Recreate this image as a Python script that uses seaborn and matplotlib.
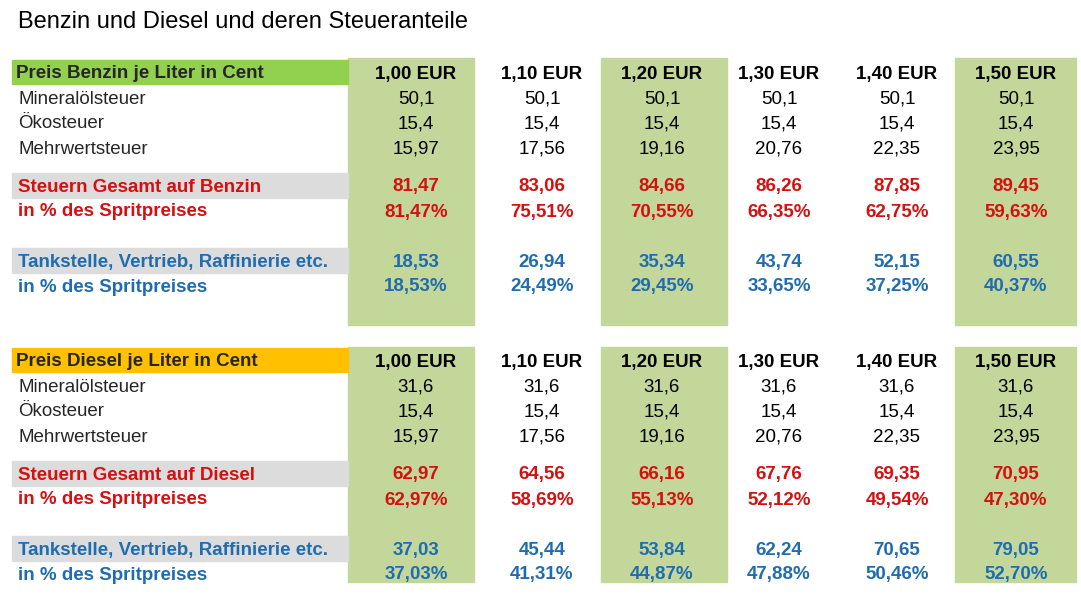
import matplotlib
matplotlib.use("Agg")
import matplotlib.pyplot as plt
import seaborn as sns
from matplotlib.patches import Rectangle

sns.set_theme(style="white")
plt.rcParams['font.family'] = ['Liberation Sans', 'DejaVu Sans']

prices = ["1,00 EUR", "1,10 EUR", "1,20 EUR", "1,30 EUR", "1,40 EUR", "1,50 EUR"]
row_labels = ["Mineralölsteuer", "Ökosteuer", "Mehrwertsteuer"]

benzin_mineral = ["50,1"] * 6
benzin_oeko = ["15,4"] * 6
benzin_mwst = ["15,97", "17,56", "19,16", "20,76", "22,35", "23,95"]
benzin_steuer = ["81,47", "83,06", "84,66", "86,26", "87,85", "89,45"]
benzin_steuer_pct = ["81,47%", "75,51%", "70,55%", "66,35%", "62,75%", "59,63%"]
benzin_rest = ["18,53", "26,94", "35,34", "43,74", "52,15", "60,55"]
benzin_rest_pct = ["18,53%", "24,49%", "29,45%", "33,65%", "37,25%", "40,37%"]

diesel_mineral = ["31,6"] * 6
diesel_oeko = ["15,4"] * 6
diesel_mwst = ["15,97", "17,56", "19,16", "20,76", "22,35", "23,95"]
diesel_steuer = ["62,97", "64,56", "66,16", "67,76", "69,35", "70,95"]
diesel_steuer_pct = ["62,97%", "58,69%", "55,13%", "52,12%", "49,54%", "47,30%"]
diesel_rest = ["37,03", "45,44", "53,84", "62,24", "70,65", "79,05"]
diesel_rest_pct = ["37,03%", "41,31%", "44,87%", "47,88%", "50,46%", "52,70%"]

RED = "#d41010"
BLUE = "#1f6db0"
GREEN_COL = "#c4d79b"
GRAY = "#dcdcdc"
FS = 13.5

fig = plt.figure(figsize=(10.81, 6.10), dpi=100)
ax = fig.add_axes([0, 0, 1, 1])
ax.set_xlim(0, 1081)
ax.set_ylim(610, 0)
ax.axis("off")

col_x = [416, 542, 662, 779, 897, 1016]
col_left = [348, 474, 601, 727, 842, 955]
col_w = [126, 127, 126, 115, 113, 121]

ax.text(18, 19, "Benzin und Diesel und deren Steueranteile", fontsize=17,
        va="center_baseline", ha="left", color="black")

# green columns
for i in (0, 2, 5):
    for top, bottom in ((58, 325), (347, 582)):
        ax.add_patch(Rectangle((col_left[i], top), col_w[i], bottom - top,
                               color=GREEN_COL, zorder=0))


def block(y0, title, title_color, tax_label, data):
    mineral, oeko, mwst, steuer, steuer_pct, rest, rest_pct = data
    ys = [y0, y0 + 25, y0 + 50, y0 + 75, y0 + 113, y0 + 138, y0 + 188, y0 + 213]
    ax.add_patch(Rectangle((12, ys[0] - 12), 336, 24, color=title_color, zorder=1))
    ax.add_patch(Rectangle((12, ys[4] - 12), 336, 25, color=GRAY, zorder=1))
    ax.add_patch(Rectangle((12, ys[6] - 12), 336, 25, color=GRAY, zorder=1))
    kw = dict(fontsize=FS, va="center_baseline")
    ax.text(16, ys[0], title, fontweight="bold", **kw)
    for k, lab in enumerate(row_labels):
        ax.text(18, ys[k + 1], lab, **kw)
    ax.text(18, ys[4], tax_label, fontweight="bold", color=RED, **kw)
    ax.text(18, ys[5], "in % des Spritpreises", fontweight="bold", color=RED, **kw)
    ax.text(18, ys[6], "Tankstelle, Vertrieb, Raffinierie etc.",
            fontweight="bold", color=BLUE, **kw)
    ax.text(18, ys[7], "in % des Spritpreises", fontweight="bold", color=BLUE, **kw)
    rows = [(prices, "black", "bold"), (mineral, "black", "normal"),
            (oeko, "black", "normal"), (mwst, "black", "normal"),
            (steuer, RED, "bold"), (steuer_pct, RED, "bold"),
            (rest, BLUE, "bold"), (rest_pct, BLUE, "bold")]
    for (vals, c, w), y in zip(rows, ys):
        for x, v in zip(col_x, vals):
            ax.text(x, y, v, color=c, fontweight=w, ha="center", **kw)


block(72, "Preis Benzin je Liter in Cent", "#92d050", "Steuern Gesamt auf Benzin",
      (benzin_mineral, benzin_oeko, benzin_mwst, benzin_steuer, benzin_steuer_pct,
       benzin_rest, benzin_rest_pct))
block(360, "Preis Diesel je Liter in Cent", "#ffc000", "Steuern Gesamt auf Diesel",
      (diesel_mineral, diesel_oeko, diesel_mwst, diesel_steuer, diesel_steuer_pct,
       diesel_rest, diesel_rest_pct))

fig.savefig("out.png", dpi=100)
